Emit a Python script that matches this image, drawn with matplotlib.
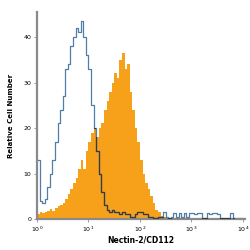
import numpy as np
import matplotlib
matplotlib.use("Agg")
import matplotlib.pyplot as plt

# bin left edges in log10 units (0.05 decade bins, 10^0 .. 10^4)
log_edges = np.arange(0, 4.0001, 0.05)

# isotype control (blue outline)
isotype = [13, 4, 3.5, 4.5, 7, 10, 13, 17, 21, 24,
           27, 33, 34, 38, 40, 42, 41, 43.5, 40, 36,
           33, 25, 20, 15, 10, 6, 3, 2, 1.5, 2,
           1.5, 1.5, 1, 1.5, 1, 1, 0.5, 0.5, 1, 1.5,
           1.5, 1, 1, 0.5, 0.5, 0.3, 0.3, 0.5, 0.5, 1.5,
           0.5, 0.3, 0.5, 1.3, 0.5, 1.3, 0.5, 1.3, 0.5, 1.3,
           1.3, 1.0, 1.3, 1.3, 0.3, 0.3, 1.3, 1.2, 1.3, 1.3,
           1.2, 0.3, 0.3, 0.3, 0.3, 1.3, 0.3, 0.3, 0.3, 0.3]

# Nectin-2/CD112 stained (orange fill)
stained = [1.2, 1.5, 1.3, 1.5, 1.8, 2.2, 1.8, 2.5, 2.8, 3,
           3.5, 4.5, 5.5, 6.5, 8, 9, 11, 13, 11, 15,
           17, 19, 20, 18, 20, 21, 24, 26, 28, 30,
           32, 31, 35, 36.5, 33, 34, 28, 24, 20, 17,
           13, 10, 8, 6.5, 5, 3.5, 2, 1.5, 0.6, 0.4,
           0.3, 0.3, 0.3, 0.3, 0.3, 0.2, 0.3, 0.2, 0.3, 0.2,
           0.3, 0.2, 0.2, 0.3, 0.2, 0.2, 0.3, 0.2, 0.2, 0.2,
           0.2, 0.2, 0.2, 0.2, 0.2, 0.2, 0.2, 0.1, 0.0, 0.0]

x_ticks = [1, 10, 100, 1000, 10000]
x_ticklabels = ['10$^0$', '10$^1$', '10$^2$', '10$^3$', '10$^4$']
y_ticks = [0, 10, 20, 30, 40]

orange = '#F7A11A'
blue = '#4F7FA6'
grey = '#8a8a8a'

edges = 10 ** log_edges
fig = plt.figure(figsize=(2.5, 2.5), dpi=100)
ax = fig.add_axes([0.148, 0.124, 0.832, 0.828])

# step outlines from the bins
xs = np.repeat(edges, 2)[1:-1]
ys_st = np.repeat(stained, 2)
ys_iso = np.repeat(isotype, 2)

fill = ax.fill_between(xs, 0, ys_st, color=orange, linewidth=0, zorder=1)
ax.plot(xs, ys_iso, color=blue, linewidth=0.9, zorder=2)
# line looks dark where it crosses the orange area
dark, = ax.plot(xs, ys_iso, color='#3a3a3a', linewidth=0.9, zorder=3)
dark.set_clip_path(fill.get_paths()[0], ax.transData)

ax.set_xscale('log')
ax.set_xlim(1, 10 ** 4.04)
ax.set_ylim(0, 45.5)
ax.set_xticks(x_ticks)
ax.set_xticklabels(x_ticklabels)
ax.minorticks_off()
ax.set_yticks(y_ticks)

for s in ['top', 'right']:
    ax.spines[s].set_visible(False)
for s in ['left', 'bottom']:
    ax.spines[s].set_color(grey)
    ax.spines[s].set_linewidth(1.6)
ax.tick_params(axis='both', labelsize=4.5, length=2, width=0.6, color=grey, pad=2)

ax.set_ylabel('Relative Cell Number', fontsize=5, fontweight='bold',
              family='Liberation Sans Narrow', labelpad=7)
ax.set_xlabel('Nectin-2/CD112', fontsize=5.5, fontweight='bold',
              family='Liberation Sans Narrow', labelpad=1)

fig.savefig('out.png', dpi=100)
